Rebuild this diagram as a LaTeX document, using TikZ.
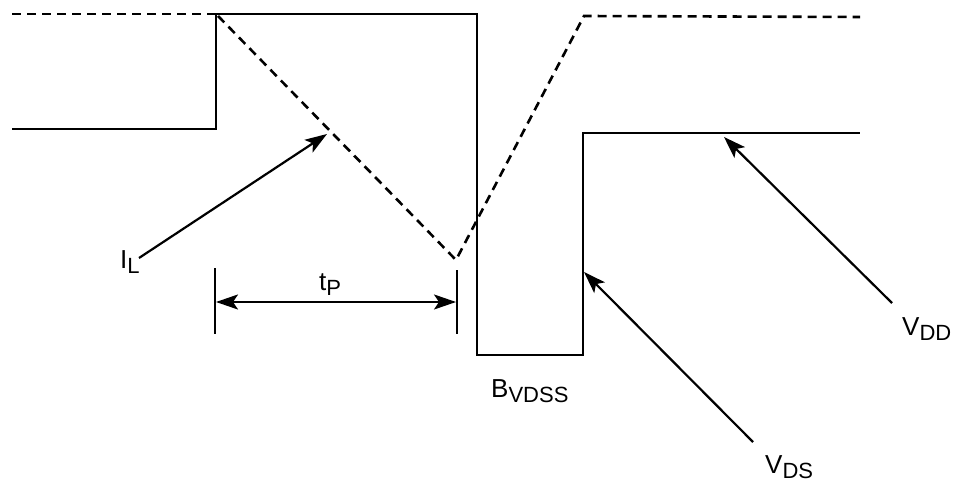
\documentclass[tikz,border=0pt]{standalone}
\usepackage{fontspec}
\setmainfont{Liberation Sans}
\usetikzlibrary{arrows.meta}
\newcommand{\sublbl}[2]{\fontsize{26}{30}\selectfont #1\raisebox{-5.5pt}{\fontsize{22}{25}\selectfont #2}}
\tikzset{tipstyle/.tip={Stealth[length=22pt,width=15pt,inset=5pt]}}
\begin{document}
\begin{tikzpicture}[x=1pt,y=-1pt,
  wave/.style={line width=2.8pt},
  dwave/.style={line width=2.6pt, dash pattern=on 9pt off 6pt},
  pointer/.style={line width=2.2pt, -tipstyle},
  bar/.style={line width=2.8pt},
  lbl/.style={anchor=base west, inner sep=0pt, font=\fontsize{26}{30}\selectfont}]
\useasboundingbox (0,0) rectangle (957,486);
% solid waveform (V_DS)
\draw[wave] (12,129) -- (216,129) -- (216,14) -- (477,14) -- (477,355) -- (583,355) -- (583,133) -- (860,133);
% dashed waveform (I_L)
\draw[dwave] (12,14) -- (216,14);
\draw[dwave] (218,16) -- (456,260) -- (584,16) -- (860,17);
% t_P dimension
\coordinate (tpl) at (216,302);
\coordinate (tpr) at (456,302);
\draw[bar] (215,268) -- (215,334);
\draw[bar] (457,270) -- (457,334);
\draw[line width=2.2pt, tipstyle-tipstyle] (tpl) -- (tpr);
\node[lbl] (tp) at (319,290) {\sublbl{t}{P}};
% labels
\node[lbl] (il) at (120,268) {\sublbl{I}{L}};
\node[lbl] (bv) at (491,397) {\sublbl{B}{VDSS}};
\node[lbl] (vds) at (765,473) {\sublbl{V}{DS}};
\node[lbl] (vdd) at (902,335) {\sublbl{V}{DD}};
% pointers
\coordinate (ils) at (139,258);
\coordinate (ilt) at (327,134);
\coordinate (vdss) at (753,442);
\coordinate (vdst) at (584,272);
\coordinate (vdds) at (892,303);
\coordinate (vddt) at (724,137);
\draw[pointer] (ils) -- (ilt);
\draw[pointer] (vdss) -- (vdst);
\draw[pointer] (vdds) -- (vddt);
\end{tikzpicture}
\end{document}
